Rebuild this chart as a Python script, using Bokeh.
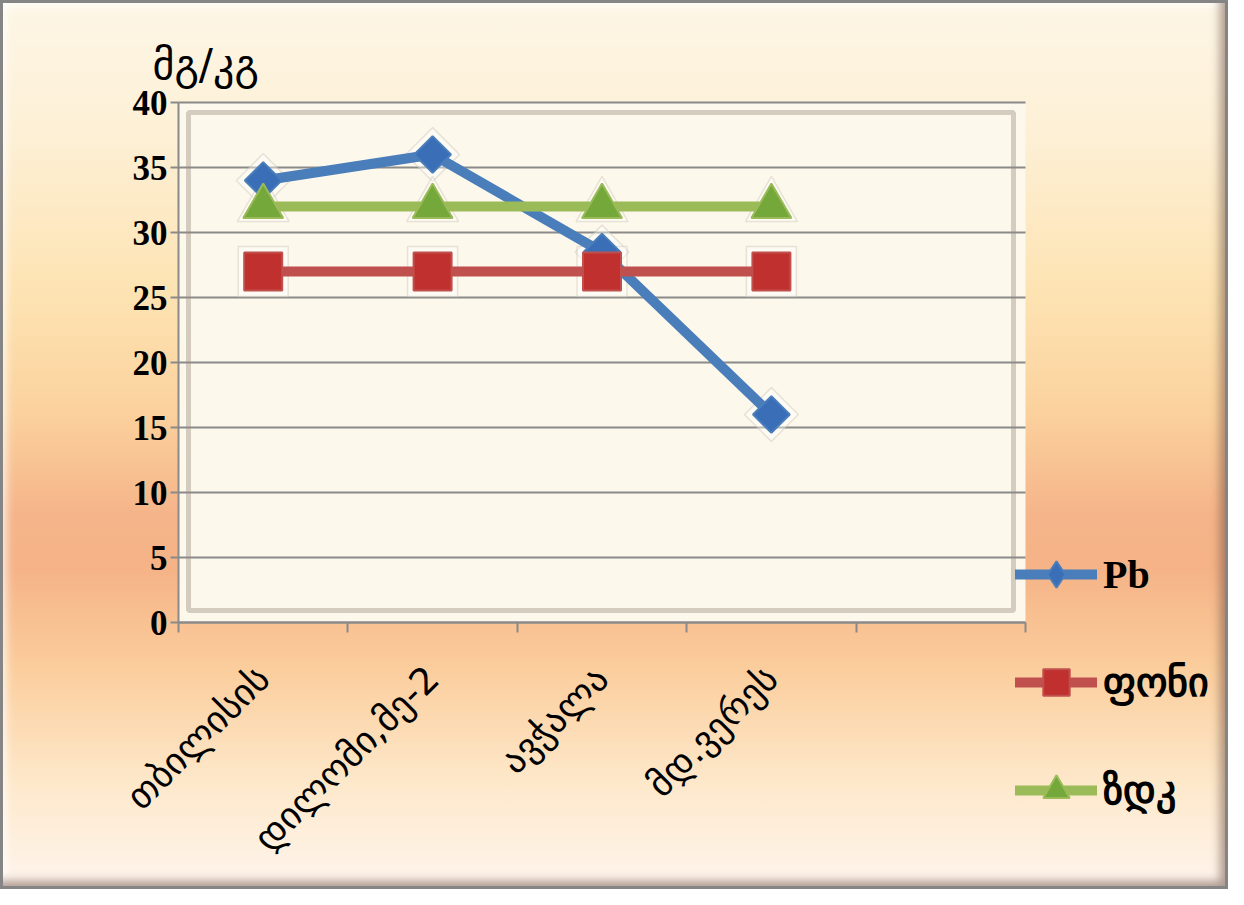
import math
from bokeh.plotting import figure
from bokeh.models import (Range1d, FixedTicker, Legend, LegendItem, Label,
                          BoxAnnotation, ColumnDataSource)
from bokeh.embed import file_html
from bokeh.resources import INLINE

# ---------------- data ----------------
categories = ["თბილისის", "დილომი,მე-2", "ავჭალა", "მდ.ვერეს"]
n_slots = 5                      # the category axis has one extra empty slot
pb_values = [34, 36, 28.5, 16]
fon_values = [27, 27, 27, 27]
zdk_values = [32, 32, 32, 32]
series_names = ["Pb", "ფონი", "ზდკ"]
y_ticks = [0, 5, 10, 15, 20, 25, 30, 35, 40]
y_title = "მგ/კგ"

# ---------------- layout (pixels) ----------------
W, H = 1228, 889
PL, PT, PR, PB = 178, 102, 1025, 622     # plot-area box
FL, FT, FR, FB = 12, 12, W - 12, H - 12  # frame spans almost the whole canvas
Y_MAX = y_ticks[-1]
ppx = (PR - PL) / n_slots                # pixels per x unit
ppy = (PB - PT) / Y_MAX                  # pixels per y unit
x_start = -(PL - FL) / ppx
x_end = (FR - PL) / ppx
y_start = -(FB - PB) / ppy
y_end = Y_MAX + (PT - FT) / ppy

GEO = "DejaVu Sans"
SERIF = "Liberation Serif"
GRAY = "#8a8a8a"

p = figure(width=W, height=H, output_backend="svg", toolbar_location=None,
           x_range=Range1d(x_start, x_end), y_range=Range1d(y_start, y_end),
           min_border_left=FL, min_border_right=W - FR, min_border_top=FT,
           min_border_bottom=H - FB)
p.border_fill_color = None
p.background_fill_color = None
p.outline_line_color = None
p.styles = {
    "background": "linear-gradient(to bottom, #fdf6e6 0%, #fdf0d6 15%, #fde3b2 33%, "
                  "#fbd29e 46%, #f5b489 58%, #f5b387 64%, #fbcd9c 75%, #fde8ca 88%, #fff5ee 100%)",
    "box-shadow": "inset 0 0 0 3px #858585, inset -14px -14px 10px -6px rgba(110,80,70,0.55), "
                  "inset 14px 14px 10px -8px rgba(255,255,255,0.8)",
}

xs = [i + 0.5 for i in range(len(categories))]

# plot-area background and bevel
p.quad(left=[0], right=[n_slots], bottom=[0], top=[Y_MAX], fill_color="#fcf8eb",
       line_color=None, level="image")
p.add_layout(BoxAnnotation(left=10 / ppx, right=n_slots - 12 / ppx,
                           bottom=12 / ppy, top=Y_MAX - 10 / ppy,
                           fill_alpha=0, line_color="#9a8a80", line_alpha=0.4,
                           line_width=5, level="underlay"))
# horizontal grid lines across the plot area only
p.segment(x0=[0] * len(y_ticks), x1=[n_slots] * len(y_ticks), y0=y_ticks, y1=y_ticks,
          line_color=GRAY, line_width=2, level="underlay")
p.xgrid.visible = False
p.ygrid.visible = False

# axes
p.xaxis.fixed_location = 0
p.xaxis.bounds = (0, n_slots)
p.xaxis.ticker = FixedTicker(ticks=xs, minor_ticks=list(range(n_slots + 1)))
p.xaxis.major_label_overrides = {x: c for x, c in zip(xs, categories)}
p.xaxis.major_tick_line_color = None
p.xaxis.minor_tick_line_color = GRAY
p.xaxis.minor_tick_line_width = 2
p.xaxis.minor_tick_in = 0
p.xaxis.minor_tick_out = 10
p.xaxis.axis_line_color = GRAY
p.xaxis.axis_line_width = 2
p.xaxis.major_label_orientation = math.pi / 4
p.xaxis.major_label_standoff = 40
p.xaxis.major_label_text_font = GEO
p.xaxis.major_label_text_font_size = "37px"
p.xaxis.major_label_text_color = "black"

p.yaxis.fixed_location = 0
p.yaxis.bounds = (0, Y_MAX)
p.yaxis.ticker = FixedTicker(ticks=y_ticks)
p.yaxis.major_tick_line_color = GRAY
p.yaxis.major_tick_line_width = 2
p.yaxis.major_tick_in = 0
p.yaxis.major_tick_out = 8
p.yaxis.minor_tick_line_color = None
p.yaxis.axis_line_color = GRAY
p.yaxis.axis_line_width = 2
p.yaxis.major_label_standoff = 3
p.yaxis.major_label_text_font = SERIF
p.yaxis.major_label_text_font_style = "bold"
p.yaxis.major_label_text_font_size = "35px"
p.yaxis.major_label_text_color = "black"

# y-axis title above the axis
p.add_layout(Label(x=(152 - PL) / ppx, y=Y_MAX + (PT - 64) / ppy, text=y_title,
                   text_font=GEO, text_font_size="42px", text_color="black",
                   text_baseline="alphabetic", text_align="left"))

# ---------------- series ----------------
specs = [
    (pb_values, "#4a7ebb", "#3a6fb8", "square", 26, math.pi / 4, "diamond"),
    (fon_values, "#c0504d", "#c0302e", "square", 38, 0.0, "square"),
    (zdk_values, "#9bbb59", "#74a83a", "triangle", 40, 0.0, "triangle"),
]

line_rs, legend_marks = [], []
for vals, lc, fc, mk, sz, ang, lmk in specs:          # soft halos
    src = ColumnDataSource(dict(x=xs, y=vals))
    p.scatter("x", "y", source=src, marker=mk, size=sz + 12, angle=ang,
              fill_color="white", fill_alpha=0.4, line_color="#c8c0b4",
              line_alpha=0.4, line_width=1.5)
for vals, lc, fc, mk, sz, ang, lmk in specs:
    src = ColumnDataSource(dict(x=xs, y=vals))
    line_rs.append(p.line("x", "y", source=src, line_color=lc, line_width=10,
                          line_cap="round", line_join="round"))
for vals, lc, fc, mk, sz, ang, lmk in specs:
    src = ColumnDataSource(dict(x=xs, y=vals))
    p.scatter("x", "y", source=src, marker=mk, size=sz, angle=ang,
              fill_color=fc, line_color=lc, line_width=2)
    # legend swatch marker: zero size in the plot, legend sizes it itself
    legend_marks.append(p.scatter("x", "y", source=src, marker=lmk, size=0,
                                  fill_color=fc, line_color=lc, line_width=2))

# ---------------- legend ----------------
legend = Legend(items=[LegendItem(label=series_names[i],
                                  renderers=[line_rs[i], legend_marks[i]])
                       for i in range(3)],
                location=(1015 - FL, FB - 823), glyph_width=82, glyph_height=66,
                spacing=42, label_standoff=6, padding=0, margin=0,
                background_fill_alpha=0, border_line_color=None,
                label_text_color="black", label_text_baseline="middle",
                label_text_font=SERIF, label_text_font_style="bold",
                label_text_font_size="40px")
p.add_layout(legend)

open("out.html", "w").write(file_html(p, INLINE))
